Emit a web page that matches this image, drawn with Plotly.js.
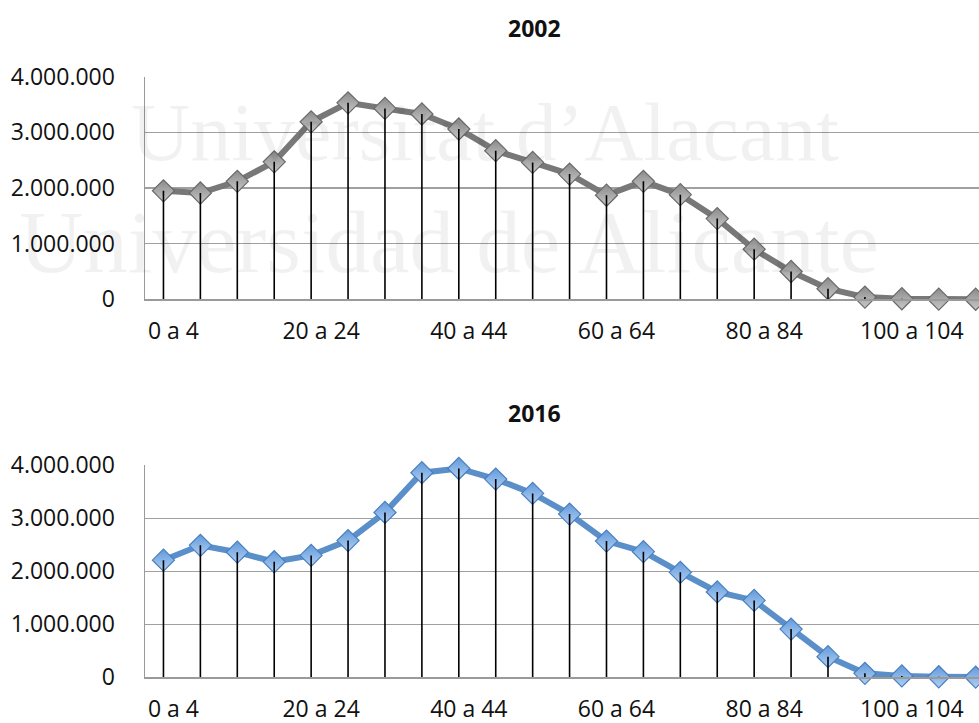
<!DOCTYPE html>
<html>
<head>
<meta charset="utf-8">
<script src="https://cdn.plot.ly/plotly-3.0.1.min.js"></script>
<style>html,body{margin:0;padding:0;background:#fff;}#chart{width:979px;height:723px;}</style>
</head>
<body>
<div id="chart"></div>
<script>
// Age groups (categories)
var categories = ["0 a 4","5 a 9","10 a 14","15 a 19","20 a 24","25 a 29","30 a 34","35 a 39","40 a 44","45 a 49","50 a 54","55 a 59","60 a 64","65 a 69","70 a 74","75 a 79","80 a 84","85 a 89","90 a 94","95 a 99","100 a 104","105 a 109","110 a 114"];
// Population 2002
var pop2002 = [1950000,1910000,2120000,2470000,3190000,3530000,3430000,3330000,3060000,2670000,2460000,2250000,1870000,2120000,1880000,1450000,900000,500000,190000,40000,10000,3000,1000];
// Population 2016
var pop2016 = [2210000,2490000,2360000,2180000,2300000,2580000,3110000,3860000,3940000,3740000,3470000,3080000,2570000,2370000,1980000,1610000,1450000,910000,390000,75000,25000,10000,5000];
var yTicks = [0,1000000,2000000,3000000,4000000];
var titles = ["2002","2016"];

function dropLines(vals){
  var xs=[], ys=[];
  for (var i=0;i<categories.length;i++){ xs.push(categories[i],categories[i],null); ys.push(vals[i],0,null); }
  return {x:xs,y:ys};
}
var d1 = dropLines(pop2002), d2 = dropLines(pop2016);
var tickCats = categories.filter(function(c,i){return i%4===0;});

var traces = [
  {x:categories,y:pop2002,xaxis:'x',yaxis:'y',type:'scatter',mode:'lines+markers',cliponaxis:false,
   line:{color:'#787878',width:6},
   marker:{symbol:'diamond',size:17,color:'#8a8a8a',gradient:{type:'vertical',color:'#c8c8c8'},line:{color:'#6a6a6a',width:1.2}}},
  {x:d1.x,y:d1.y,xaxis:'x',yaxis:'y',type:'scatter',mode:'lines',cliponaxis:false,connectgaps:false,line:{color:'#000',width:1.6},hoverinfo:'skip'},
  {x:categories,y:pop2016,xaxis:'x2',yaxis:'y2',type:'scatter',mode:'lines+markers',cliponaxis:false,
   line:{color:'#5a8fc9',width:6},
   marker:{symbol:'diamond',size:17,color:'#6299da',gradient:{type:'vertical',color:'#b0d0f4'},line:{color:'#4a7fbe',width:1.2}}},
  {x:d2.x,y:d2.y,xaxis:'x2',yaxis:'y2',type:'scatter',mode:'lines',cliponaxis:false,connectgaps:false,line:{color:'#000',width:1.6},hoverinfo:'skip'}
];

var tickFont = {family:'Open Sans',size:23,color:'#111'};
var xRange = [-0.5, 22.09];
function xa(anchor){
  return {anchor:anchor,type:'category',categoryorder:'array',categoryarray:categories,range:xRange,
    tickmode:'array',tickvals:tickCats,ticktext:tickCats,ticks:'outside',ticklen:11,tickcolor:'rgba(0,0,0,0)',
    ticklabelshift:10,showgrid:false,zeroline:false,showline:true,linecolor:'#9a9a9a',linewidth:1.5,
    tickfont:tickFont};
}
function ya(anchor,dom){
  return {anchor:anchor,domain:dom,range:[0,4000000],tickmode:'array',tickvals:yTicks,tickformat:',d',
    ticks:'outside',ticklen:24,tickcolor:'rgba(0,0,0,0)',showgrid:true,gridcolor:'#a0a0a0',gridwidth:1.5,
    zeroline:false,showline:true,linecolor:'#9a9a9a',linewidth:1.5,
    tickfont:tickFont};
}
var W=979, H=723, L=145;
function px(x){return (x-L)/(W-L);}
function py(y){return 1-y/H;}

var layout = {
  width:W,height:H,margin:{l:L,r:0,t:0,b:0},paper_bgcolor:'#fff',plot_bgcolor:'rgba(0,0,0,0)',
  separators:',.',showlegend:false,
  xaxis:xa('y'), yaxis:ya('x',[py(299.3),py(76.7)]),
  xaxis2:xa('y2'), yaxis2:ya('x2',[py(677.3),py(465.3)]),
  annotations:[
    {text:'Universitat d\u2019Alacant',xref:'paper',yref:'paper',x:px(485),y:py(132),xanchor:'center',yanchor:'middle',showarrow:false,
     font:{family:'Liberation Serif',size:82,color:'rgba(0,0,0,0.055)'}},
    {text:'Universidad de Alicante',xref:'paper',yref:'paper',x:px(449),y:py(242),xanchor:'center',yanchor:'middle',showarrow:false,
     font:{family:'Liberation Serif',size:89,color:'rgba(0,0,0,0.055)'}},
    {text:'<b>'+titles[0]+'</b>',xref:'paper',yref:'paper',x:px(534),y:py(28),xanchor:'center',yanchor:'middle',showarrow:false,
     font:{family:'Open Sans',size:23,color:'#111'}},
    {text:'<b>'+titles[1]+'</b>',xref:'paper',yref:'paper',x:px(534),y:py(413),xanchor:'center',yanchor:'middle',showarrow:false,
     font:{family:'Open Sans',size:23,color:'#111'}}
  ]
};
Plotly.newPlot('chart',traces,layout,{displayModeBar:false,staticPlot:true});
</script>
</body>
</html>
